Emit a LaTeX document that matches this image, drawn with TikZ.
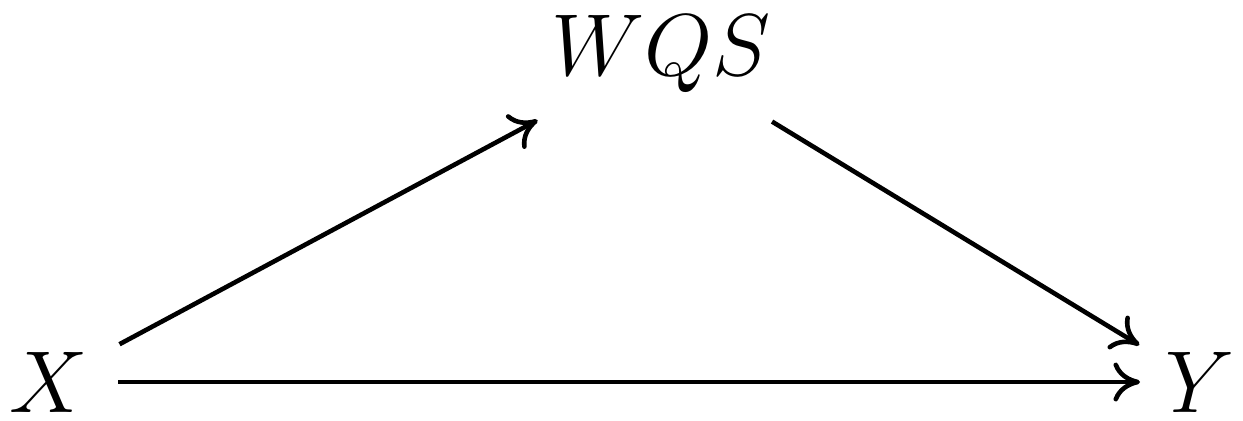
\documentclass[tikz,border=0pt]{standalone}
\usetikzlibrary{arrows.meta}
\begin{document}
\begin{tikzpicture}[x=0.283pt,y=-0.283pt,
  lbl/.style={inner sep=0pt,font=\fontsize{24.88}{30}\selectfont},
  conn/.style={line width=1.3pt,-{Computer Modern Rightarrow[length=7.5pt,width=11pt,line width=1.3pt]}}]
\useasboundingbox (0,0) rectangle (1243,420);
\node[lbl] (X) at (49,382) {$X$};
\node[lbl] (Y) at (1200,382) {$Y$};
\node[lbl] (W) at (661,54) {$WQS$};
\draw[conn,shorten <=80*0.283pt,shorten >=140*0.283pt] (X.center) -- (W.center);
\draw[conn,shorten <=130*0.283pt,shorten >=71*0.283pt] (W.center) -- (Y.center);
\draw[conn,shorten <=69*0.283pt,shorten >=60*0.283pt] (X.center) -- (Y.center);
\end{tikzpicture}
\end{document}
